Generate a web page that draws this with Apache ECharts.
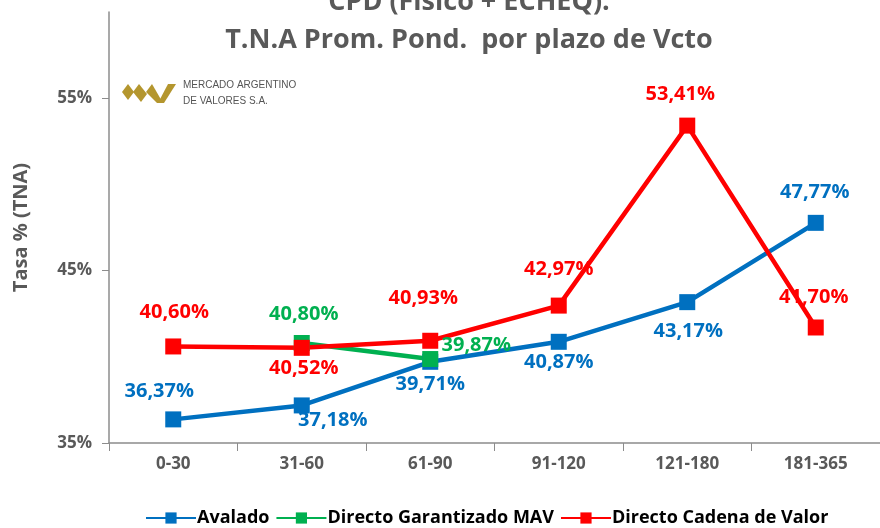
<!DOCTYPE html>
<html>
<head>
<meta charset="utf-8">
<script src="https://cdn.jsdelivr.net/npm/echarts@6/dist/echarts.min.js"></script>
<style>
  html, body { margin: 0; padding: 0; background: #fff; }
  #chart { width: 880px; height: 528px; }
</style>
</head>
<body>
<div id="chart"></div>
<script>
var categories = ['0-30', '31-60', '61-90', '91-120', '121-180', '181-365'];
var avalado = [36.37, 37.18, 39.71, 40.87, 43.17, 47.77];
var garantizado = [null, 40.80, 39.87, null, null, null];
var cadena = [40.60, 40.52, 40.93, 42.97, 53.41, 41.70];
var yTicks = [35, 45, 55];

// label offsets from each point (px)
var avaladoOff = [[-14, -28], [31, 15], [0, 22], [0, 20], [1, 29], [-1, -31]];
var garantizadoOff = [null, [2, -29], [46, -14], null, null, null];
var cadenaOff = [[1, -34], [2, 20], [-7, -42], [0, -36], [-7, -31], [-2, -30]];

function fmt(v) {
	return v.toFixed(2).replace('.', ',') + '%';
}
function build(values, off) {
	return values.map(function (v, i) {
		if (v === null) return null;
		return { value: v, label: { position: 'inside', offset: off[i] } };
	});
}
function mkSeries(name, values, off, color) {
	return {
		name: name,
		type: 'line',
		data: build(values, off),
		symbol: 'rect',
		symbolSize: 16,
		connectNulls: false,
		lineStyle: { color: color, width: 4.5 },
		itemStyle: { color: color },
		label: {
			show: true,
			color: color,
			fontFamily: 'Open Sans',
			fontWeight: 'bold',
			fontSize: 20,
			formatter: function (p) { return fmt(p.value); }
		}
	};
}

var myChart = echarts.init(document.getElementById('chart'));
var gold = '#B4962E';
var option = {
	animation: false,
	title: {
		text: 'CPD (Físico + ECHEQ):\nT.N.A Prom. Pond.  por plazo de Vcto',
		left: 464,
		textAlign: 'center',
		top: -22,
		textStyle: {
			color: '#595959',
			fontFamily: 'Open Sans',
			fontWeight: 'bold',
			fontSize: 27,
			lineHeight: 38
		}
	},
	grid: { left: 109, right: -3, top: 12, bottom: 85 },
	legend: {
		bottom: -4,
		left: 140,
		itemWidth: 50,
		itemHeight: 14,
		itemGap: 6,
		textStyle: { color: '#000', fontFamily: 'Open Sans', fontWeight: 'bold', fontSize: 18, padding: [0, 0, 0, -4] },
		data: ['Avalado', 'Directo Garantizado MAV', 'Directo Cadena de Valor']
	},
	xAxis: {
		type: 'category',
		data: categories,
		boundaryGap: true,
		axisLine: { lineStyle: { color: '#8c8c8c', width: 1.5 } },
		axisTick: { show: true, length: 8, lineStyle: { color: '#8c8c8c' } },
		axisLabel: { color: '#595959', fontFamily: 'Open Sans', fontWeight: 'bold', fontSize: 17, margin: 13 }
	},
	yAxis: {
		type: 'value',
		min: 35,
		max: 60,
		name: 'Tasa % (TNA)',
		nameLocation: 'middle',
		nameGap: 78,
		nameRotate: 90,
		nameTextStyle: { color: '#595959', fontFamily: 'Open Sans', fontWeight: 'bold', fontSize: 20 },
		axisLine: { show: true, lineStyle: { color: '#8c8c8c', width: 1.5 } },
		axisTick: { show: true, length: 7, customValues: yTicks, lineStyle: { color: '#8c8c8c' } },
		axisLabel: {
			color: '#595959', fontFamily: 'Open Sans', fontWeight: 'bold', fontSize: 17, margin: 17,
			customValues: yTicks,
			formatter: function (v) { return v + '%'; }
		},
		splitLine: { show: false }
	},
	graphic: [
		{ type: 'polygon', shape: { points: [[122, 92], [128, 84], [134, 92], [128, 100]] }, style: { fill: gold } },
		{ type: 'polygon', shape: { points: [[133, 92], [139, 84], [147, 94], [141, 102]] }, style: { fill: gold } },
		{ type: 'polygon', shape: { points: [[146, 92], [152, 84], [163, 103], [157, 103]] }, style: { fill: gold } },
		{ type: 'polygon', shape: { points: [[158, 103], [168, 84], [176, 84], [164, 103]] }, style: { fill: gold } },
		{ type: 'text', left: 183, top: 77, style: { text: 'MERCADO ARGENTINO\nDE VALORES S.A.', fill: '#555', font: '10px "Liberation Sans Narrow", "Liberation Sans"', lineHeight: 16 } }
	],
	series: [
		mkSeries('Avalado', avalado, avaladoOff, '#0070C0'),
		mkSeries('Directo Garantizado MAV', garantizado, garantizadoOff, '#00B050'),
		mkSeries('Directo Cadena de Valor', cadena, cadenaOff, '#FF0000')
	]
};
myChart.setOption(option);
</script>
</body>
</html>
